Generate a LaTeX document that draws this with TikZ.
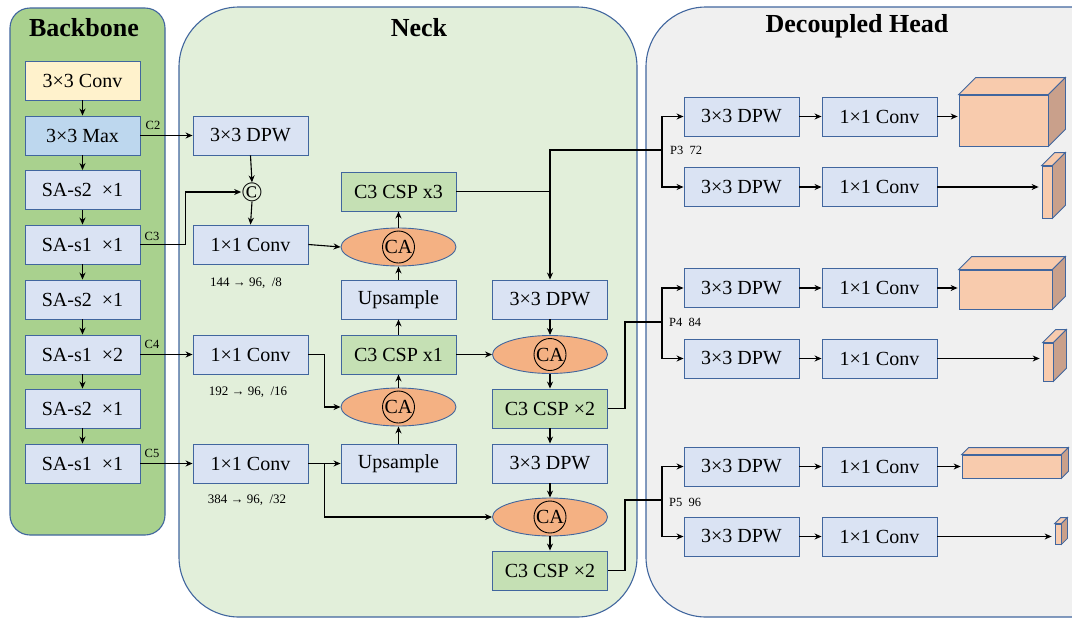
\documentclass[tikz,border=0pt]{standalone}
\usepackage{fontspec}
\setmainfont{Liberation Serif}
\usetikzlibrary{shapes.geometric,arrows.meta}
\definecolor{bdr}{HTML}{41669E}
\definecolor{boxblue}{HTML}{DAE3F3}
\definecolor{maxblue}{HTML}{BDD7EE}
\definecolor{convy}{HTML}{FFF2CC}
\definecolor{gbox}{HTML}{C5E0B4}
\definecolor{caor}{HTML}{F4B183}
\definecolor{bbfill}{HTML}{A9D18E}
\definecolor{neckfill}{HTML}{E2EFDA}
\definecolor{headfill}{HTML}{F0F0F0}
\definecolor{cubef}{HTML}{F8CBAD}
\definecolor{cubes}{HTML}{C9A08B}
\newcommand\fsz[1]{\fontsize{#1}{#1}\selectfont}
\tikzset{
  panel/.style={draw=bdr, line width=1.1pt},
  blk/.style={draw=bdr, fill=boxblue, line width=0.9pt, minimum width=115pt, minimum height=39pt, inner sep=0pt, font=\fsz{20}},
  gblk/.style={blk, fill=gbox},
  ca/.style={ellipse, draw=bdr, fill=caor, line width=0.9pt, minimum width=115pt, minimum height=38pt, inner sep=0pt},
  cacirc/.style={circle, draw=black, line width=0.9pt, minimum size=32pt, inner sep=0pt, font=\fsz{20}},
  arr/.style={line width=1.1pt, -{Stealth[length=7pt,width=6pt]}},
  ln/.style={line width=1.1pt},
  small/.style={font=\fsz{12.5}, inner sep=0pt},
  title/.style={font=\fsz{26}\bfseries},
  cube/.style={draw=bdr, fill=cubef, line width=0.8pt, inner sep=0pt},
}
\newcommand\cubedepth[2]{% #1 node name, #2 depth
  \draw[draw=bdr, fill=cubef, line width=0.8pt] (#1.north west) -- ++(#2,-#2) -- ([xshift=#2pt,yshift=#2pt]#1.north east) -- (#1.north east) -- cycle;
  \draw[draw=bdr, fill=cubes, line width=0.8pt] (#1.north east) -- ++(#2,-#2) -- ([xshift=#2pt,yshift=#2pt]#1.south east) -- (#1.south east) -- cycle;
}
\begin{document}
\begin{tikzpicture}[x=1pt,y=-1pt]
\useasboundingbox (0,0) rectangle (1072,619);
% panels
\draw[panel, fill=headfill, rounded corners=60pt] (646,7) rectangle (1130,617);
\draw[panel, fill=neckfill, rounded corners=60pt] (179,7) rectangle (637,617);
\draw[panel, fill=bbfill, rounded corners=20pt] (10,8) rectangle (165,535);
\node[title] (tb) at (84,28) {Backbone};
\node[title] (tn) at (419,28) {Neck};
\node[title] (th) at (857,26) {Decoupled Head};
% backbone
\node[blk, fill=convy] (s0) at (82.5,80.5) {3×3 Conv};
\node[blk, fill=maxblue] (s1) at (82.5,135.5) {3×3 Max};
\node[blk] (s2) at (82.5,190) {SA-s2\ \ ×1};
\node[blk] (s3) at (82.5,244.5) {SA-s1\ \ ×1};
\node[blk] (s4) at (82.5,299.5) {SA-s2\ \ ×1};
\node[blk] (s5) at (82.5,354.5) {SA-s1\ \ ×2};
\node[blk] (s6) at (82.5,408.5) {SA-s2\ \ ×1};
\node[blk] (s7) at (82.5,463.5) {SA-s1\ \ ×1};
\foreach \a/\b in {s0/s1,s1/s2,s2/s3,s3/s4,s4/s5,s5/s6,s6/s7}
  \draw[arr] (\a.south) -- (\b.north);
\node[small] (lc2) at (153,125) {C2};
\node[small] (lc3) at (152,236) {C3};
\node[small] (lc4) at (152,344) {C4};
\node[small] (lc5) at (152,453) {C5};
% neck column 1
\node[blk] (d1) at (250.5,135.5) {3×3 DPW};
\node[font=\fsz{28}, inner sep=0pt] (cc) at (252,192) {©};
\node[blk] (n1) at (250.5,244.5) {1×1 Conv};
\node[blk] (n2) at (250.5,354.5) {1×1 Conv};
\node[blk] (n3) at (250.5,463.5) {1×1 Conv};
\node[small, font=\fsz{13}] (l1) at (246,283) {144 → 96,\ \ /8};
\node[small, font=\fsz{13}] (l2) at (248,392) {192 → 96,\ \ /16};
\node[small, font=\fsz{13}] (l3) at (247,500) {384 → 96,\ \ /32};
% neck column 2
\node[gblk] (csp3) at (398.5,191.5) {C3 CSP x3};
\node[ca] (ca1) at (398.5,247) {};
\node[cacirc] (ca1c) at (ca1) {CA};
\node[blk] (up1) at (398.5,299.5) {Upsample};
\node[gblk] (csp1) at (398.5,354.5) {C3 CSP x1};
\node[ca] (ca2) at (398.5,407) {};
\node[cacirc] (ca2c) at (ca2) {CA};
\node[blk] (up2) at (398.5,463.5) {Upsample};
% neck column 3
\node[blk] (d3) at (550,299.5) {3×3 DPW};
\node[ca] (ca3) at (550,354.5) {};
\node[cacirc] (ca3c) at (ca3) {CA};
\node[gblk] (cspa) at (550,408.5) {C3 CSP ×2};
\node[blk] (d4) at (550,463.5) {3×3 DPW};
\node[ca] (ca4) at (550,517) {};
\node[cacirc] (ca4c) at (ca4) {CA};
\node[gblk] (cspb) at (550,570.5) {C3 CSP ×2};
% neck connections
\draw[arr] (s1.east) -- (d1.west);
\draw[arr] (d1.south) -- (cc.north);
\draw[arr] (s3.east) -- ++(45,0) |- (cc.west);
\draw[arr] (cc.south) -- (n1.north);
\draw[arr] (n1.east) -- (ca1.west);
\draw[arr] (ca1.north) -- (csp3.south);
\draw[arr] (up1.north) -- (ca1.south);
\draw[arr] (csp1.north) -- (up1.south);
\draw[arr] (ca2.north) -- (csp1.south);
\draw[arr] (up2.north) -- (ca2.south);
\draw[arr] (s5.east) -- (n2.west);
\draw[arr] (n2.east) -- ++(16,0) |- (ca2.west);
\draw[arr] (s7.east) -- (n3.west);
\draw[arr] (n3.east) -- (up2.west);
\draw[arr] (n3.east) -- ++(16,0) |- (ca4.west);
\draw[arr] (csp3.east) -| (d3.north);
\draw[arr] (csp1.east) -- (ca3.west);
\draw[arr] (d3.south) -- (ca3.north);
\draw[arr] (ca3.south) -- (cspa.north);
\draw[arr] (cspa.south) -- (d4.north);
\draw[arr] (d4.south) -- (ca4.north);
\draw[arr] (ca4.south) -- (cspb.north);
% branch points
\coordinate (j3) at (550,150);
\coordinate (b3) at (662,150);
\coordinate (b4) at (662,322);
\coordinate (b5) at (662,500);
\draw[ln] (d3.north |- csp3.east) -- (j3) -- (b3);
\draw[ln] (cspa.east) -- ++(17,0) |- (b4);
\draw[ln] (cspb.east) -- ++(17,0) |- (b5);
\node[small, anchor=west] (p3) at (670,150) {P3\ \ 72};
\node[small, anchor=west] (p4) at (669,322) {P4\ \ 84};
\node[small, anchor=west] (p5) at (669,502) {P5\ \ 96};
% head
\node[blk] (h3a) at (741.5,116.5) {3×3 DPW};
\node[blk] (c3a) at (879.5,116.5) {1×1 Conv};
\node[blk] (h3b) at (741.5,187) {3×3 DPW};
\node[blk] (c3b) at (879.5,187) {1×1 Conv};
\node[blk] (h4a) at (741.5,288) {3×3 DPW};
\node[blk] (c4a) at (879.5,288) {1×1 Conv};
\node[blk] (h4b) at (741.5,358.5) {3×3 DPW};
\node[blk] (c4b) at (879.5,358.5) {1×1 Conv};
\node[blk] (h5a) at (741.5,466.5) {3×3 DPW};
\node[blk] (c5a) at (879.5,466.5) {1×1 Conv};
\node[blk] (h5b) at (741.5,536.5) {3×3 DPW};
\node[blk] (c5b) at (879.5,536.5) {1×1 Conv};
\draw[arr] (b3) |- (h3a.west);
\draw[arr] (b3) |- (h3b.west);
\draw[arr] (b4) |- (h4a.west);
\draw[arr] (b4) |- (h4b.west);
\draw[arr] (b5) |- (h5a.west);
\draw[arr] (b5) |- (h5b.west);
\foreach \a/\b in {h3a/c3a,h3b/c3b,h4a/c4a,h4b/c4b,h5a/c5a,h5b/c5b}
  \draw[arr] (\a.east) -- (\b.west);
% cuboids
\node[cube, minimum width=89pt, minimum height=51pt] (k3a) at (1003.5,120.5) {};
\cubedepth{k3a}{17}
\node[cube, minimum width=10pt, minimum height=52pt] (k3b) at (1047,192) {};
\cubedepth{k3b}{13}
\node[cube, minimum width=93pt, minimum height=39pt] (k4a) at (1005.5,289.5) {};
\cubedepth{k4a}{13}
\node[cube, minimum width=10pt, minimum height=38pt] (k4b) at (1048,362) {};
\cubedepth{k4b}{13}
\node[cube, minimum width=99pt, minimum height=23pt] (k5a) at (1011.5,466.5) {};
\cubedepth{k5a}{7}
\node[cube, minimum width=6pt, minimum height=20pt] (k5b) at (1058,534) {};
\cubedepth{k5b}{6}
\draw[arr] (c3a.east) -- ([xshift=-1pt]k3a.west |- c3a.east);
\draw[arr] (c3b.east) -- ([xshift=-3pt]k3b.west |- c3b.east);
\draw[arr] (c4a.east) -- ([xshift=-1pt]k4a.west |- c4a.east);
\draw[arr] (c4b.east) -- ([xshift=-3pt]k4b.west |- c4b.east);
\draw[arr] (c5a.east) -- ([xshift=-1pt]k5a.west |- c5a.east);
\draw[arr] (c5b.east) -- ([xshift=-3pt]k5b.west |- c5b.east);
\end{tikzpicture}
\end{document}
